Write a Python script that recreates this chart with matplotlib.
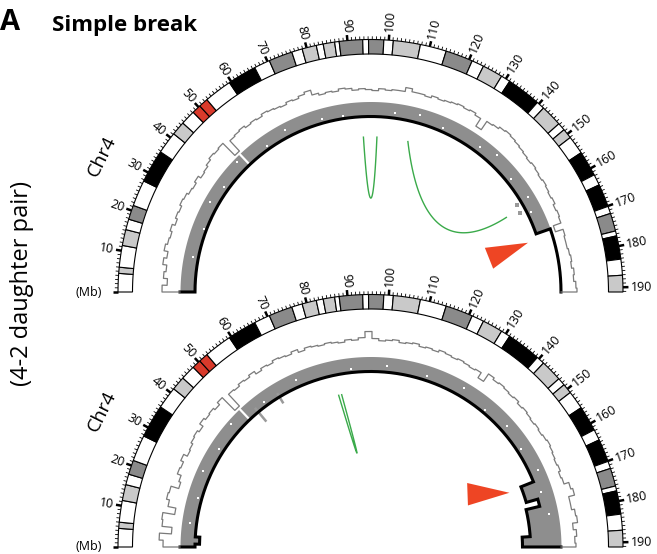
import numpy as np
import matplotlib.pyplot as plt
from matplotlib.path import Path
from matplotlib.markers import MarkerStyle
from matplotlib.transforms import Affine2D

plt.rcParams['font.family'] = ['Open Sans', 'DejaVu Sans']

W, H = 657, 554
CX = 370.5                 # centre of the half circles, pixels
CY = [292, 547]            # top panel, bottom panel
R_AX = 300                 # radial limit of the polar axes (1 unit = 1 px)
R_IN, R_OUT = 238, 252.5   # ideogram ring
R_LAB = 260.5
BASE = 190.5               # outer edge of the grey band / depth baseline
R_LINK = 155

CHR_LEN = 191.15

# chr4 cytobands (Mb)
band_start = [0, 4.5, 6.0, 11.3, 15.2, 17.8, 21.3, 27.7, 35.8, 41.2, 44.6, 48.2,
              50.4, 52.7, 59.5, 66.6, 70.5, 76.3, 78.9, 82.4, 84.1, 86.9, 88.0,
              93.7, 95.1, 98.8, 101.1, 107.7, 114.1, 120.8, 123.8, 128.8, 131.1,
              139.5, 141.5, 146.8, 148.7, 151.1, 155.6, 161.8, 164.5, 170.1,
              171.9, 176.3, 177.5, 183.2, 187.1]
band_stain = ['gneg', 'gpos25', 'gneg', 'gpos50', 'gneg', 'gpos75', 'gneg', 'gpos100',
              'gneg', 'gpos50', 'gneg', 'acen', 'acen', 'gneg', 'gpos100', 'gneg',
              'gpos75', 'gneg', 'gpos50', 'gneg', 'gpos25', 'gneg', 'gpos75', 'gneg',
              'gpos75', 'gneg', 'gpos50', 'gneg', 'gpos75', 'gneg', 'gpos50', 'gneg',
              'gpos100', 'gneg', 'gpos25', 'gneg', 'gpos25', 'gneg', 'gpos100', 'gneg',
              'gpos100', 'gneg', 'gpos75', 'gneg', 'gpos100', 'gneg', 'gpos25']
stain_color = {'gneg': 'white', 'gpos25': '#c9c9c9', 'gpos50': '#c9c9c9',
               'gpos75': '#8a8a8a', 'gpos100': 'black', 'acen': '#d93a2b'}

# read depth, 2 Mb bins (height above baseline)
DEPTH_BIN = 2
depth_top = [18, 13, 17, 15, 19, 16, 20, 18, 17, 19, 16, 18, 17, 19, 18, 16, 15, 17, 14, 15,
             17, 19, 18, 19, 2, 16, 17, 18, 16, 17, 16, 18, 17, 16, 15, 17, 16, 18, 20, 15,
             13, 14, 13, 15, 14, 12, 13, 12, 11, 13, 12, 13, 13, 17, 14, 14, 13, 15, 14, 15,
             16, 17, 16, 17, 15, 6, 16, 17, 19, 20, 19, 18, 17, 16, 15, 16, 15, 14, 15, 14,
             13, 14, 12, 13, 12, 4, 12, 11, 11, 12, 13, 12, 14, 13, 15, 16]
depth_bottom = [17, 21, 9, 19, 20, 8, 16, 19, 18, 10, 12, 16, 15, 18, 14, 15, 17, 18, 16, 20,
                18, 19, 17, 20, 2, 18, 17, 19, 18, 20, 17, 19, 18, 20, 19, 18, 20, 17, 19, 18,
                17, 18, 17, 16, 18, 17, 19, 25, 18, 16, 17, 18, 16, 17, 18, 16, 17, 16, 18, 17,
                16, 17, 16, 15, 16, 10, 19, 17, 18, 17, 16, 17, 15, 16, 15, 14, 15, 14, 15, 16,
                15, 14, 13, 14, 12, 13, 18, 20, 14, 14, 17, 18, 13, 16, 14, 15]

# copy-number outline: segment starts (Mb) and radius level
cn_top_start = [0, 170.6]
cn_top_r = [175.5, 190.5]
cn_bottom_start = [0, 1.0, 3.5, 168.0, 174.2, 176.8, 187.2]
cn_bottom_r = [175.5, 171, 175.5, 162, 174, 160, 152]

# rearrangement links: ends (Mb) and bezier control point (Mb, radius)
link_top_a = [92.8, 110.4]
link_top_b = [98.1, 160.6]
link_top_cp = [97.4, 167.3]
link_top_cr = [33, 57]
link_bottom_a = [83.0]
link_bottom_b = [84.2]
link_bottom_cp = [100.9]
link_bottom_cr = [36]

# breakpoint arrowheads: position (Mb), radius, direction (deg)
arrow_p = [173.1, 164.9]
arrow_r = [144.3, 129.9]
arrow_rot = [21.7, 2.0]

# white specks in the grey band and grey marks near the outline
speck_top_p = [12, 22, 31, 38, 47, 58, 66, 79, 86, 104, 112, 121, 135, 141, 150, 158, 163]
speck_top_r = [181, 178, 184, 180, 186, 179, 183, 180, 178, 181, 184, 179, 182, 186, 180, 184, 179]
speck_bottom_p = [8, 17, 26, 35, 44, 57, 70, 89, 101, 115, 128, 138, 147, 156, 165, 172, 180]
speck_bottom_r = [182, 179, 184, 181, 186, 180, 183, 179, 182, 180, 185, 179, 183, 180, 184, 179, 182]
gmark_top_p = [158.5, 161.5]
gmark_top_r = [171, 169]
gmark_bottom_p = [53.4, 62.4]

ticks_major = list(range(0, 191, 10))
ticks_minor = [p for p in range(0, 192) if p % 10]


def th(p):
    return np.deg2rad(180.0 * np.asarray(p, dtype=float) / CHR_LEN)


def step_outline(starts, levels, end, base):
    ps, rs = [starts[0]], [base]
    ends = list(starts[1:]) + [end]
    for s, e, lv in zip(starts, ends, levels):
        seg = np.linspace(s, e, max(2, int((e - s) * 4)))
        ps.extend(seg)
        rs.extend([lv] * len(seg))
    ps.append(end)
    rs.append(base)
    return np.array(ps), np.array(rs)


def xy(p, r):
    a = th(p)
    return np.array([-r * np.cos(a), r * np.sin(a)])


fig = plt.figure(figsize=(W / 100, H / 100), dpi=100)

tri = MarkerStyle(Path([(1, 0), (-1, 0.536), (-1, -0.536), (1, 0)],
                       [Path.MOVETO, Path.LINETO, Path.LINETO, Path.CLOSEPOLY]))

panels = [
    dict(depth=depth_top, cs=cn_top_start, cr=cn_top_r, la=link_top_a, lb=link_top_b,
         lcp=link_top_cp, lcr=link_top_cr, sp=speck_top_p, sr=speck_top_r),
    dict(depth=depth_bottom, cs=cn_bottom_start, cr=cn_bottom_r, la=link_bottom_a,
         lb=link_bottom_b, lcp=link_bottom_cp, lcr=link_bottom_cr,
         sp=speck_bottom_p, sr=speck_bottom_r),
]

for i, pan in enumerate(panels):
    cy = CY[i]
    ax = fig.add_axes([(CX - R_AX) / W, (H - cy - R_AX) / H, 2 * R_AX / W, 2 * R_AX / H],
                      projection='polar')
    ax.set_theta_zero_location('W')
    ax.set_theta_direction(-1)
    ax.set_ylim(0, R_AX)
    ax.axis('off')
    ax.patch.set_visible(False)

    # ideogram
    b_end = band_start[1:] + [CHR_LEN]
    for s, e, st in zip(band_start, b_end, band_stain):
        ax.bar(th(s), R_OUT - R_IN, width=th(e) - th(s), bottom=R_IN, align='edge',
               color=stain_color[st], edgecolor='black', linewidth=0.8, zorder=3)
    ax.vlines(th(ticks_minor), R_OUT, R_OUT + 3.2, colors='black', linewidth=0.6)
    ax.vlines(th(ticks_major), R_OUT, R_OUT + 5.5, colors='black', linewidth=1.8)
    for p in ticks_major[1:]:
        phi = 180 - 180 * p / CHR_LEN
        if phi < 90:
            rot, ha = phi, 'left'
        else:
            rot, ha = phi - 180, 'right'
        ax.text(th(p), R_LAB, str(p), rotation=rot, rotation_mode='anchor', ha=ha,
                va='center', fontsize=9)
    ax.text(th(0), 268.5, '(Mb)', ha='right', va='center', fontsize=9)
    ax.text(th(28.5), 301, 'Chr4', rotation=63.5, ha='center', va='center', fontsize=14)

    # grey band and copy-number outline
    cp, cr = step_outline(pan['cs'], pan['cr'], CHR_LEN, BASE)
    ax.fill_between(th(cp), cr, BASE, color='#8e8e8e', linewidth=0, zorder=2)
    ax.vlines(th(49.4), 176, BASE, colors='white', linewidth=1.6, zorder=2.5)
    ax.plot(th(pan['sp']), pan['sr'], linestyle='none', marker='s', markersize=2,
            color='white', markeredgewidth=0, zorder=2.5)
    if i == 0:
        ax.plot(th(gmark_top_p), gmark_top_r, linestyle='none', marker='s', markersize=3,
                color='#9a9a9a', markeredgewidth=0, zorder=2.5)
    else:
        ax.vlines(th(gmark_bottom_p), [163, 168], [181, 180], colors='#9a9a9a',
                  linewidth=1.8, zorder=2.5)
    ax.plot(th(cp), cr, color='black', linewidth=2.2, zorder=4,
            solid_joinstyle='miter')

    # read depth histogram
    starts = list(np.arange(len(pan['depth'])) * DEPTH_BIN)
    dp, dr = step_outline(starts, BASE + np.array(pan['depth']), CHR_LEN, BASE)
    ax.plot(th(dp), dr, color='#7a7a7a', linewidth=0.9, zorder=4)

    # links
    t = np.linspace(0, 1, 120)[:, None]
    for a, b, pc, rc in zip(pan['la'], pan['lb'], pan['lcp'], pan['lcr']):
        P0, C, P2 = xy(a, R_LINK), xy(pc, rc), xy(b, R_LINK)
        curve = (1 - t) ** 2 * P0 + 2 * t * (1 - t) * C + t ** 2 * P2
        ax.plot(np.arctan2(curve[:, 1], -curve[:, 0]), np.hypot(curve[:, 0], curve[:, 1]),
                color='#3aaa4a', linewidth=1.0, zorder=4)

    # breakpoint arrowhead
    m = MarkerStyle(tri.get_path(), transform=Affine2D().rotate_deg(arrow_rot[i]))
    ax.plot(th(arrow_p[i]), arrow_r[i], linestyle='none', marker=m, markersize=30.2,
            color='#ee4524', markeredgewidth=0, zorder=5)

fig.text(0 / W, 1 - 23 / H, 'A', fontsize=21, fontweight='bold', ha='left', va='center')
fig.text(52 / W, 1 - 25 / H, 'Simple break', fontsize=16, fontweight='bold',
         ha='left', va='center')
fig.text(22 / W, 1 - 284 / H, '(4-2 daughter pair)', rotation=90, fontsize=17,
         ha='center', va='center')

fig.savefig('out.png', dpi=100)
